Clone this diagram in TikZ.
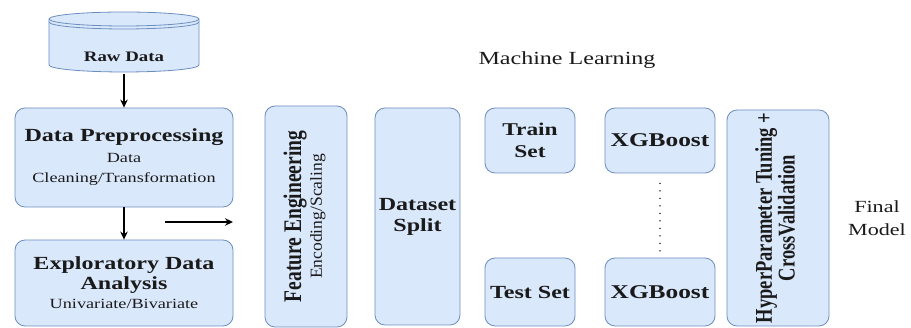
\documentclass[tikz,border=0pt]{standalone}
\usepackage{fontspec}
\setmainfont{Liberation Serif}
\usepackage{graphicx}
\usetikzlibrary{arrows.meta}
\definecolor{boxfill}{HTML}{DAE8FC}
\definecolor{boxline}{HTML}{6C8EBF}
\definecolor{txt}{HTML}{1A1A1A}
\newcommand\wid[1]{\scalebox{1.3}[1]{#1}}
\newcommand\tal[1]{\scalebox{1}[1.3]{#1}}
\begin{document}
\begin{tikzpicture}[x=1pt,y=1pt,
  box/.style={draw=boxline, fill=boxfill, line width=0.8pt, rounded corners=10pt,
    inner sep=0pt, align=center, text=txt},
  arr/.style={-{Stealth[length=8pt,width=7.5pt]}, line width=1.6pt},
  dotline/.style={line width=1.6pt, dash pattern=on 0pt off 7.5pt, line cap=round},
  big/.style={font=\fontsize{18.5}{21}\selectfont\bfseries},
]
\fill[white] (0,0) rectangle (911,328);
\useasboundingbox (0,0) rectangle (911,328);

% Raw data cylinder
\draw[draw=boxline, fill=boxfill, line width=0.8pt]
  (49,309) -- (49,263) arc[start angle=180, end angle=360, x radius=75, y radius=7]
  -- (199,309) arc[start angle=0, end angle=180, x radius=75, y radius=7] -- cycle;
\draw[boxline, line width=0.8pt] (49,309) arc[start angle=180, end angle=360, x radius=75, y radius=7];
\draw[boxline, line width=0.8pt] (49,306) arc[start angle=180, end angle=360, x radius=75, y radius=7];
\node[text=txt, inner sep=0pt] (raw) at (124,271) {\wid{\fontsize{14.5}{17}\selectfont\bfseries Raw Data}};
\coordinate (rawbot) at (124,254);

% left column
\node[box, minimum width=218pt, minimum height=99pt, font=\fontsize{14}{20.5}\selectfont]
  (prep) at (124,170.5)
  {\wid{\fontsize{18.5}{21}\selectfont\bfseries Data Preprocessing}\\
   \wid{Data}\\
   \wid{Cleaning/Transformation}};
\node[box, minimum width=218pt, minimum height=86pt, font=\fontsize{14}{19.5}\selectfont]
  (eda) at (124,45)
  {\wid{\fontsize{18.5}{21}\selectfont\bfseries Exploratory Data}\\
   \wid{\fontsize{18.5}{21}\selectfont\bfseries Analysis}\\
   \wid{Univariate/Bivariate}};

\draw[arr] (rawbot) -- (prep.north);
\draw[arr] (prep.south) -- (eda.north);
\coordinate (hs) at (165,106);
\coordinate (he) at (233,106);
\draw[arr] (hs) -- (he);

% feature engineering
\node[box, rotate=90, minimum width=221pt, minimum height=82pt]
  (feat) at (306,111.5)
  {\tal{\fontsize{19.5}{17}\selectfont\begin{tabular}{@{}c@{}}
     {\bfseries Feature Engineering}\\[-1pt]
     {\fontsize{13}{15}\selectfont\scalebox{1.35}[1]{Encoding/Scaling}}
   \end{tabular}}};

% dataset split
\node[box, minimum width=85pt, minimum height=217pt, font=\fontsize{18.5}{21}\selectfont\bfseries]
  (split) at (417.5,111.5)
  {\wid{Dataset}\\ \wid{Split}};

% train / test
\node[box, minimum width=90pt, minimum height=65pt, font=\fontsize{18}{22.5}\selectfont\bfseries]
  (train) at (530,187.5) {\wid{Train}\\ \wid{Set}};
\node[box, minimum width=90pt, minimum height=68pt, font=\fontsize{18.5}{21}\selectfont\bfseries]
  (test) at (530,36) {\wid{Test Set}};

% XGBoost
\node[box, minimum width=110pt, minimum height=65pt, font=\fontsize{19.5}{21}\selectfont\bfseries]
  (xg1) at (660,187.5) {\wid{XGBoost}};
\node[box, minimum width=110pt, minimum height=68pt, font=\fontsize{19.5}{21}\selectfont\bfseries]
  (xg2) at (660,36) {\wid{XGBoost}};
\draw[dotline, shorten <=10pt, shorten >=3pt] (xg1.south) -- (xg2.north);

% hyper parameter tuning
\node[box, rotate=90, minimum width=216pt, minimum height=102pt]
  (hyp) at (778,110)
  {\tal{\fontsize{18.5}{16}\selectfont\bfseries\begin{tabular}{@{}c@{}}
     HyperParameter Tuning +\\
     CrossValidation
   \end{tabular}}};

% labels
\node[text=txt, inner sep=0pt] (ml) at (567,268)
  {\wid{\fontsize{18.5}{21}\selectfont Machine Learning}};
\node[text=txt, inner sep=0pt, align=center, font=\fontsize{17}{23}\selectfont] (final) at (877,110)
  {\wid{Final}\\ \wid{Model}};
\end{tikzpicture}
\end{document}
